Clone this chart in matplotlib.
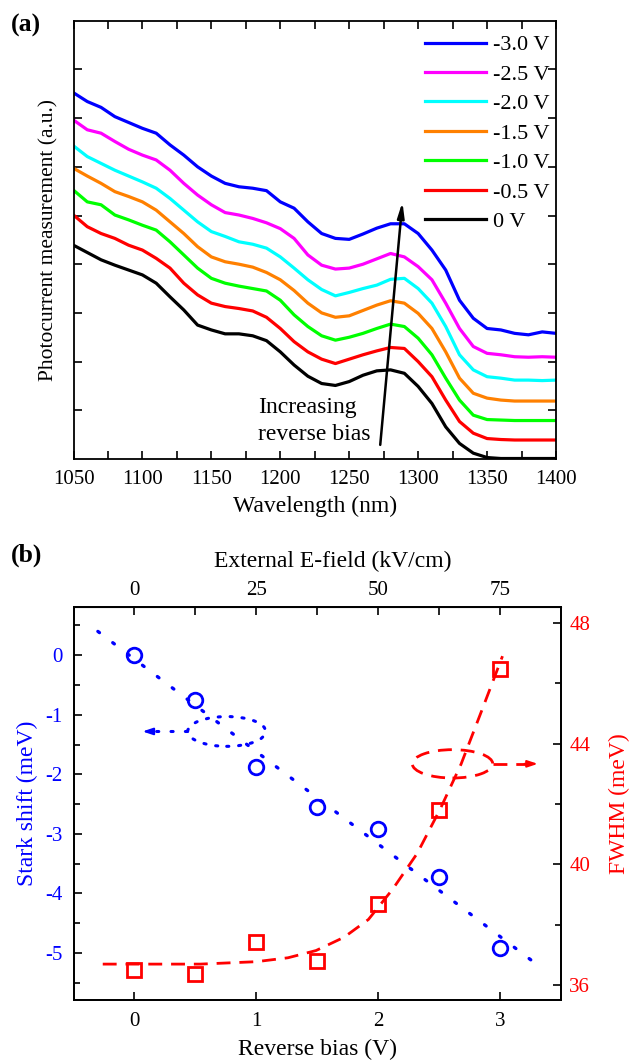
import numpy as np
import matplotlib
matplotlib.use("Agg")
import matplotlib.pyplot as plt
from matplotlib.patches import Ellipse

plt.rcParams['font.family'] = ['Liberation Serif', 'DejaVu Serif']

# ---------------- Panel (a) data ----------------
wavelength = [1050, 1060, 1070, 1080, 1090, 1100, 1110, 1120, 1130, 1140, 1150, 1160,
              1170, 1180, 1190, 1200, 1210, 1220, 1230, 1240, 1250, 1260, 1270, 1280,
              1290, 1300, 1310, 1320, 1330, 1340, 1350, 1360, 1370, 1380, 1390, 1400]

pc_m30 = [7.52, 7.34, 7.22, 7.03, 6.91, 6.79, 6.69, 6.45, 6.24, 6.00, 5.81, 5.66,
          5.59, 5.56, 5.51, 5.28, 5.15, 4.87, 4.63, 4.53, 4.51, 4.62, 4.74, 4.83,
          4.83, 4.63, 4.29, 3.88, 3.26, 2.89, 2.68, 2.65, 2.58, 2.55, 2.61, 2.58]
pc_m25 = [6.96, 6.76, 6.69, 6.52, 6.36, 6.24, 6.14, 5.93, 5.66, 5.42, 5.22, 5.06,
          5.01, 4.94, 4.85, 4.73, 4.53, 4.19, 3.98, 3.90, 3.92, 4.00, 4.11, 4.22,
          4.15, 3.95, 3.68, 3.20, 2.68, 2.31, 2.17, 2.14, 2.10, 2.09, 2.10, 2.09]
pc_m20 = [6.43, 6.21, 6.07, 5.93, 5.81, 5.69, 5.56, 5.35, 5.11, 4.87, 4.67, 4.57,
          4.46, 4.41, 4.33, 4.15, 3.92, 3.68, 3.48, 3.35, 3.42, 3.50, 3.57, 3.69,
          3.71, 3.50, 3.20, 2.72, 2.14, 1.83, 1.69, 1.66, 1.62, 1.62, 1.61, 1.62]
pc_m15 = [5.97, 5.81, 5.66, 5.49, 5.39, 5.28, 5.11, 4.87, 4.63, 4.36, 4.15, 4.05,
          4.00, 3.94, 3.83, 3.68, 3.46, 3.20, 3.00, 2.91, 2.94, 3.05, 3.16, 3.25,
          3.20, 2.99, 2.68, 2.20, 1.66, 1.35, 1.25, 1.21, 1.19, 1.19, 1.19, 1.19]
pc_m10 = [5.52, 5.28, 5.22, 5.01, 4.91, 4.80, 4.70, 4.46, 4.19, 3.92, 3.71, 3.61,
          3.55, 3.50, 3.45, 3.26, 2.96, 2.72, 2.53, 2.44, 2.50, 2.58, 2.68, 2.77,
          2.72, 2.48, 2.14, 1.66, 1.21, 0.90, 0.81, 0.80, 0.79, 0.79, 0.79, 0.79]
pc_m05 = [5.01, 4.77, 4.63, 4.53, 4.39, 4.29, 4.12, 3.92, 3.61, 3.37, 3.20, 3.13,
          3.09, 3.04, 2.91, 2.68, 2.41, 2.20, 2.05, 1.96, 2.05, 2.14, 2.22, 2.29,
          2.27, 2.00, 1.69, 1.21, 0.77, 0.53, 0.42, 0.40, 0.39, 0.39, 0.39, 0.39]
pc_0 = [4.39, 4.24, 4.09, 3.98, 3.88, 3.78, 3.61, 3.33, 3.06, 2.75, 2.65, 2.57,
        2.57, 2.53, 2.43, 2.20, 1.93, 1.70, 1.55, 1.51, 1.59, 1.72, 1.81, 1.83,
        1.76, 1.49, 1.14, 0.66, 0.32, 0.12, 0.03, 0.01, 0.01, 0.01, 0.01, 0.01]

bias_labels = ['-3.0 V', '-2.5 V', '-2.0 V', '-1.5 V', '-1.0 V', '-0.5 V', '0 V']
bias_colors = ['#0000ff', '#ff00ff', '#00ffff', '#ff8000', '#00ff00', '#ff0000', '#000000']
series = [pc_m30, pc_m25, pc_m20, pc_m15, pc_m10, pc_m05, pc_0]

# ---------------- Panel (b) data ----------------
bias = [0, 0.5, 1.0, 1.5, 2.0, 2.5, 3.0]
stark = [0.0, -0.75, -1.87, -2.55, -2.91, -3.73, -4.92]
fwhm = [36.51, 36.37, 37.42, 36.78, 38.67, 41.81, 46.46]

stark_fit_x = [-0.3, 3.3]
stark_fit_y = [0.40, -5.19]

fwhm_fit_x = [-0.26, 0.54, 1.0, 1.26, 1.49, 1.72, 1.92, 2.12, 2.32, 2.51, 2.68, 2.85, 3.02]
fwhm_fit_y = [36.69, 36.69, 36.77, 36.90, 37.14, 37.58, 38.17, 39.18, 40.36, 41.84, 43.32, 45.10, 46.90]

W, H = 629, 1060
fig = plt.figure(figsize=(W / 100, H / 100), dpi=100)

def fx(px):
    return px / W

def fy(py):
    return 1 - py / H

# ---------------- Panel (a) ----------------
axL, axR, axT, axB = 73.5, 556.0, 20.7, 459.0
ax1 = fig.add_axes([fx(axL), fy(axB), fx(axR - axL), (axB - axT) / H])
for s, c, lab in zip(series[::-1], bias_colors[::-1], bias_labels[::-1]):
    ax1.plot(wavelength, s, color=c, lw=2.3, label=lab, solid_joinstyle='round')
ax1.set_xlim(1050, 1400)
ax1.set_ylim(0, 9)
ax1.set_xticks([1050, 1100, 1150, 1200, 1250, 1300, 1350, 1400])
ax1.set_xticks(np.arange(1075, 1400, 50), minor=True)
ax1.set_yticks([1, 2, 3, 4, 5, 6, 7, 8])
ax1.set_yticklabels([])
ax1.tick_params(which='both', direction='in', top=True, right=True, length=6, width=1.2,
                labelsize=15, pad=8)
for sp in ax1.spines.values():
    sp.set_linewidth(1.3)
ax1.set_xlabel('Wavelength (nm)', fontsize=17, labelpad=5)
ax1.set_ylabel('Photocurrent measurement (a.u.)', fontsize=15.5, labelpad=3)

h, l = ax1.get_legend_handles_labels()
leg = ax1.legend(h[::-1], l[::-1], loc='upper left', bbox_to_anchor=(0.728, 0.968),
                 frameon=False, fontsize=16, handlelength=2.75, handletextpad=0.3,
                 labelspacing=0.40, borderpad=0, borderaxespad=0)

ax1.annotate('', xy=(1288.6, 5.28), xytext=(1272.5, 0.29),
             arrowprops=dict(arrowstyle='-|>,head_length=0.9,head_width=0.2',
                             color='black', lw=1.8, shrinkA=0, shrinkB=0))
ax1.text(1183.8, 0.78, 'Increasing\nreverse bias', fontsize=17, ha='left', va='center',
         linespacing=1.4)

fig.text(fx(11), fy(25), '(a)', fontsize=18.5, fontweight='bold', ha='left', va='center')

# ---------------- Panel (b) ----------------
bL, bR, bT, bB = 73.5, 561.0, 607.0, 1000.0
ax2 = fig.add_axes([fx(bL), fy(bB), fx(bR - bL), (bB - bT) / H])
ax3 = ax2.twinx()
blue = '#0000ff'
red = '#ff0000'

ax2.plot(stark_fit_x, stark_fit_y, color=blue, lw=2.4, linestyle=(0, (0.6, 5.0)),
         dash_capstyle='round')
ax2.plot(bias, stark, linestyle='none', marker='o', markersize=10.5, markerfacecolor='none',
         markeredgecolor=blue, markeredgewidth=2.0)
ax2.set_xlim(-0.5, 3.5)
ax2.set_ylim(-5.79, 0.81)
ax2.set_xticks([0, 1, 2, 3])
ax2.set_xticks([0.5, 1.5, 2.5], minor=True)
ax2.set_yticks([0, -1, -2, -3, -4, -5])
ax2.set_yticklabels(['0', '-1', '-2', '-3', '-4', '-5'])
ax2.set_yticks([0.5, -0.5, -1.5, -2.5, -3.5, -4.5, -5.5], minor=True)
ax2.tick_params(axis='y', which='both', direction='in', colors='black', labelcolor=blue,
                labelsize=15, pad=8)
ax2.tick_params(axis='y', which='major', length=6, width=1.2)
ax2.tick_params(axis='y', which='minor', length=4, width=1.2)
ax2.tick_params(axis='x', which='both', direction='in', labelsize=15, pad=9, top=False)
ax2.tick_params(axis='x', which='major', length=6, width=1.2)
ax2.tick_params(axis='x', which='minor', length=0)
ax2.set_xlabel('Reverse bias (V)', fontsize=17, labelpad=5)
ax2.set_ylabel('Stark shift (meV)', fontsize=17, color=blue, labelpad=5)

# loop annotation (blue)
ax2.add_patch(Ellipse((0.757, -1.28), 0.64, 0.50, fill=False, edgecolor=blue, lw=2.2,
                      linestyle=(0, (0.7, 3.2)), capstyle='round'))
ax2.plot([0.435, 0.13], [-1.28, -1.28], color=blue, lw=2.2, linestyle=(0, (0.7, 4.0)),
         dash_capstyle='round')
ax2.annotate('', xy=(0.066, -1.28), xytext=(0.15, -1.28),
             arrowprops=dict(arrowstyle='-|>,head_length=0.6,head_width=0.2',
                             color=blue, lw=1.5, shrinkA=0, shrinkB=0))

ax3.plot(fwhm_fit_x, fwhm_fit_y, color=red, lw=2.0, linestyle=(0, (5, 3.2)))
ax3.plot(bias, fwhm, linestyle='none', marker='s', markersize=9.5, markerfacecolor='none',
         markeredgecolor=red, markeredgewidth=2.0)
ax3.set_ylim(35.5, 48.53)
ax3.set_yticks([36, 40, 44, 48])
ax3.set_yticks([38, 42, 46], minor=True)
ax3.tick_params(axis='y', which='both', direction='in', colors='black', labelcolor=red,
                labelsize=15, pad=6)
ax3.tick_params(axis='y', which='major', length=6, width=1.2)
ax3.tick_params(axis='y', which='minor', length=4, width=1.2)
ax3.set_ylabel('FWHM (meV)', fontsize=17, color=red, labelpad=13)

ax3.add_patch(Ellipse((2.61, 43.33), 0.66, 0.94, fill=False, edgecolor=red, lw=2.0,
                      linestyle=(0, (5, 3.2))))
ax3.plot([2.94, 3.22], [43.33, 43.33], color=red, lw=2.0, linestyle=(0, (5, 3.2)))
ax3.annotate('', xy=(3.31, 43.33), xytext=(3.2, 43.33),
             arrowprops=dict(arrowstyle='-|>,head_length=0.6,head_width=0.2',
                             color=red, lw=1.5, shrinkA=0, shrinkB=0))

secx = ax2.secondary_xaxis('top', functions=(lambda v: v * 25.0, lambda e: e / 25.0))
secx.set_xticks([0, 25, 50, 75])
secx.set_xticks([12.5, 37.5, 62.5], minor=True)
secx.tick_params(which='both', direction='in', labelsize=15, pad=5, length=6, width=1.2)
secx.set_xlabel('External E-field (kV/cm)', fontsize=17, labelpad=10)
secx.xaxis.label.set_x(0.532)

for a in (ax2, ax3):
    for sp in a.spines.values():
        sp.set_linewidth(1.3)

fig.text(fx(11), fy(555), '(b)', fontsize=18.5, fontweight='bold', ha='left', va='center')

fig.savefig('out.png', dpi=100)
